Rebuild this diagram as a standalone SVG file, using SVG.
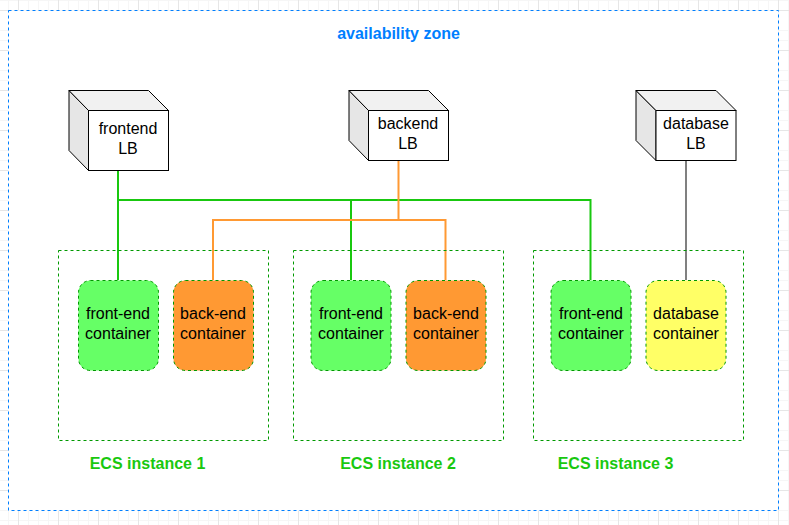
<svg xmlns="http://www.w3.org/2000/svg" width="789" height="525" viewBox="0 0 789 525">
<style>
text{font-family:"Liberation Sans",Arial,sans-serif;font-size:16px;fill:#000;text-anchor:middle}
.bold{font-weight:bold}
.zone{fill:#fff;stroke:#007fff;stroke-width:1;stroke-dasharray:3 3}
.inst{fill:none;stroke:#009900;stroke-width:1;stroke-dasharray:3 3}
.ctr{stroke:#009900;stroke-width:1;stroke-dasharray:3 3}
.front{fill:#fff;stroke:#000;stroke-width:1}
.side{fill:#e6e6e6;stroke:#000;stroke-width:1}
.top{fill:#f1f1f1;stroke:#000;stroke-width:1}
.wire{fill:none;stroke-width:2}
.grid-minor{stroke:#f6f6f6;stroke-width:1;fill:none}
.grid-major{stroke:#e6e6e6;stroke-width:1;fill:none}
</style>
<defs>
<pattern id="g" width="40" height="40" patternUnits="userSpaceOnUse" x="8" y="10">
<path class="grid-minor" d="M0.5 0V40M20.5 0V40M30.5 0V40M0 0.5H40M0 20.5H40M0 30.5H40"/>
<path class="grid-major" d="M10.5 0V40M0 0.5H40"/>
</pattern>
</defs>
<rect width="789" height="525" fill="#fff"/>
<rect width="789" height="525" fill="url(#g)"/>
<g id="zone">
<rect class="zone" x="8.5" y="10.5" width="770" height="500"/>
<text class="bold" x="398.500" y="39" style="fill:#007fff">availability zone</text>
</g>
<g id="connectors">
<path class="wire" stroke="#19c80f" d="M118 170V280M118 200H590.500V280M351 200V280"/>
<path class="wire" stroke="#ff9933" d="M398.500 160V220M213 280V220H445.500V280"/>
<path class="wire" stroke="#808080" d="M686 160V280"/>
</g>
<g id="frontend-lb">
<path class="side" d="M69 90.500L88.500 110.500V170.500L69 150.500Z"/>
<path class="top" d="M69 90.500H148.500L168.500 110.500H88.500Z"/>
<rect class="front" x="88.500" y="110.500" width="80" height="60"/>
<text x="128" y="134">frontend</text><text x="128" y="154">LB</text>
</g>
<g id="backend-lb">
<path class="side" d="M349 90.500L368.500 110.500V160.500L349 140.500Z"/>
<path class="top" d="M349 90.500H428.500L448.500 110.500H368.500Z"/>
<rect class="front" x="368.500" y="110.500" width="80" height="50"/>
<text x="408" y="129">backend</text><text x="408" y="149">LB</text>
</g>
<g id="database-lb">
<path class="side" d="M636 90.500L656 110.500V160.500L636 140.500Z"/>
<path class="top" d="M636 90.500H716L736 110.500H656Z"/>
<rect class="front" x="656" y="110.500" width="80" height="50"/>
<text x="696" y="129">database</text><text x="696" y="149">LB</text>
</g>
<g id="ecs-instance-1">
<rect class="inst" x="58.500" y="250.500" width="210" height="190"/>
<text class="bold" x="147.500" y="469" style="fill:#19c80f">ECS instance 1</text>
</g>
<g id="ecs-instance-2">
<rect class="inst" x="293.500" y="250.500" width="210" height="190"/>
<text class="bold" x="398" y="469" style="fill:#19c80f">ECS instance 2</text>
</g>
<g id="ecs-instance-3">
<rect class="inst" x="533.500" y="250.500" width="210" height="190"/>
<text class="bold" x="615.500" y="469" style="fill:#19c80f">ECS instance 3</text>
</g>
<g id="front-end-1">
<rect class="ctr" x="78.500" y="280.500" width="80" height="90" rx="12" fill="#66ff66"/>
<text x="118" y="319">front-end</text><text x="118" y="339">container</text>
</g>
<g id="back-end-1">
<rect class="ctr" x="173.500" y="280.500" width="80" height="90" rx="12" fill="#ff9933"/>
<text x="213" y="319">back-end</text><text x="213" y="339">container</text>
</g>
<g id="front-end-2">
<rect class="ctr" x="311" y="280.500" width="80" height="90" rx="12" fill="#66ff66"/>
<text x="351" y="319">front-end</text><text x="351" y="339">container</text>
</g>
<g id="back-end-2">
<rect class="ctr" x="406" y="280.500" width="80" height="90" rx="12" fill="#ff9933"/>
<text x="446" y="319">back-end</text><text x="446" y="339">container</text>
</g>
<g id="front-end-3">
<rect class="ctr" x="551" y="280.500" width="80" height="90" rx="12" fill="#66ff66"/>
<text x="591" y="319">front-end</text><text x="591" y="339">container</text>
</g>
<g id="database-container">
<rect class="ctr" x="646" y="280.500" width="80" height="90" rx="12" fill="#ffff66"/>
<text x="686" y="319">database</text><text x="686" y="339">container</text>
</g>
</svg>
